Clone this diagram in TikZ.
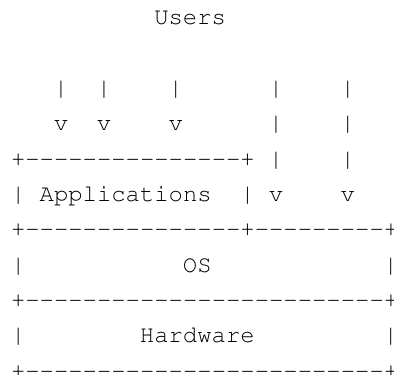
\documentclass[tikz,border=0pt]{standalone}
\usepackage[T1]{fontenc}
\usepackage{courier}
\usepackage{tikz}

% a run of n dashes, one per column
\newcommand{\dashes}[1]{\foreach \k in {1,...,#1}{-}}

\begin{document}
\begin{tikzpicture}[x=14.33pt, y=-35.3pt,
    ascii/.style={font=\ttfamily\fontsize{23.9}{24}\selectfont, inner sep=0pt, anchor=base west}]
    % one unit = one character cell: x counts columns, y counts lines
    \useasboundingbox (-0.754,-0.708) rectangle (26.74,9.915);

    % Users on top
    \node[ascii] (users) at (10,0) {Users};

    % arrows down into Applications
    \foreach \c in {3,6,11} {
        \node[ascii] (app pipe \c) at (\c,2) {|};
        \node[ascii] (app tip \c) at (\c,3) {v};
    }

    % arrows past Applications straight into the OS
    \foreach \c in {18,23} {
        \foreach \r in {2,3,4}
            \node[ascii] (os pipe \c-\r) at (\c,\r) {|};
        \node[ascii] (os tip \c) at (\c,5) {v};
    }

    % Applications box
    \node[ascii] (app top) at (0,4) {+\dashes{15}+};
    \node[ascii] (app left) at (0,5) {|};
    \node[ascii] (app label) at (2,5) {Applications};
    \node[ascii] (app right) at (16,5) {|};
    \node[ascii] (app bottom) at (0,6) {+\dashes{15}+\dashes{9}+};

    % OS layer
    \node[ascii] (os left) at (0,7) {|};
    \node[ascii] (os label) at (12,7) {OS};
    \node[ascii] (os right) at (26,7) {|};
    \node[ascii] (os bottom) at (0,8) {+\dashes{25}+};

    % Hardware layer
    \node[ascii] (hw left) at (0,9) {|};
    \node[ascii] (hw label) at (9,9) {Hardware};
    \node[ascii] (hw right) at (26,9) {|};
    \node[ascii] (hw bottom) at (0,10) {+\dashes{25}+};

\end{tikzpicture}
\end{document}
